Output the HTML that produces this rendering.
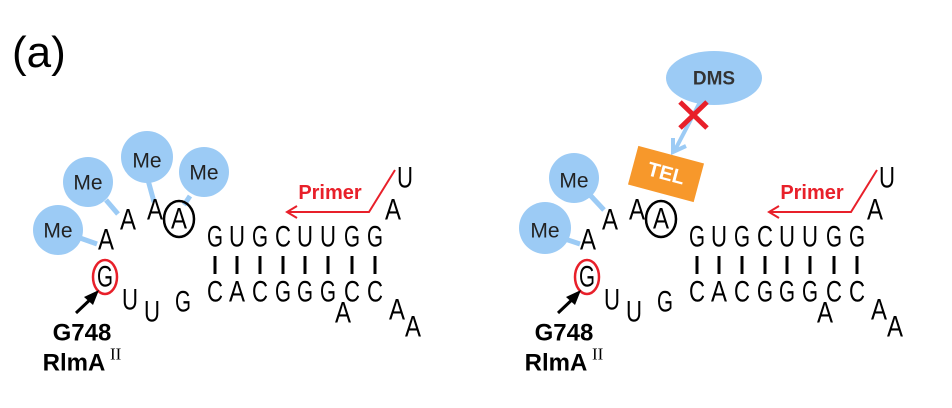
<!DOCTYPE html>
<html><head><style>
html,body{margin:0;padding:0;background:#fff;}
svg{display:block;}
text{font-family:"Liberation Sans",sans-serif;}
.n{font-size:30px;text-anchor:middle;dominant-baseline:central;fill:#000;}
.me{font-size:21px;text-anchor:middle;dominant-baseline:central;fill:#222;}
</style></head><body>
<svg width="952" height="408" viewBox="0 0 952 408">
<text x="12" y="67" style="font-size:44px">(a)</text>
<defs>
<g id="base">
  <ellipse cx="105" cy="277" rx="12" ry="17" fill="none" stroke="#e8202a" stroke-width="2.5"/>
  <line x1="76" y1="313" x2="95" y2="295" stroke="#000" stroke-width="3"/>
  <polygon points="99,290 84,297 93,305" fill="#000"/>
  <text x="82" y="333" style="font-size:24px;font-weight:bold" text-anchor="middle" dominant-baseline="central">G748</text>
  <text x="74" y="363" style="font-size:24px;font-weight:bold" text-anchor="middle" dominant-baseline="central">RlmA</text>
  <text x="110" y="354" style="font-size:17px;font-family:'Liberation Serif',serif" dominant-baseline="central">II</text>
  <text class="n" textLength="16" lengthAdjust="spacingAndGlyphs" x="106" y="240">A</text>
  <text class="n" textLength="16" lengthAdjust="spacingAndGlyphs" x="128" y="220">A</text>
  <text class="n" textLength="16" lengthAdjust="spacingAndGlyphs" x="155" y="210">A</text>
  <ellipse cx="179" cy="219" rx="15" ry="18" fill="none" stroke="#000" stroke-width="2.5"/>
  <text class="n" textLength="16" lengthAdjust="spacingAndGlyphs" x="179" y="219">A</text>
  <text class="n" textLength="16" lengthAdjust="spacingAndGlyphs" x="105" y="277">G</text>
  <text class="n" textLength="16" lengthAdjust="spacingAndGlyphs" x="130" y="300">U</text>
  <text class="n" textLength="16" lengthAdjust="spacingAndGlyphs" x="152" y="312">U</text>
  <text class="n" textLength="16" lengthAdjust="spacingAndGlyphs" x="183" y="302">G</text>
  <g>
  <text class="n" textLength="16" lengthAdjust="spacingAndGlyphs" x="215" y="237">G</text><text class="n" textLength="16" lengthAdjust="spacingAndGlyphs" x="237" y="237">U</text><text class="n" textLength="16" lengthAdjust="spacingAndGlyphs" x="260" y="237">G</text><text class="n" textLength="16" lengthAdjust="spacingAndGlyphs" x="283" y="237">C</text><text class="n" textLength="16" lengthAdjust="spacingAndGlyphs" x="305" y="237">U</text><text class="n" textLength="16" lengthAdjust="spacingAndGlyphs" x="328" y="237">U</text><text class="n" textLength="16" lengthAdjust="spacingAndGlyphs" x="352" y="237">G</text><text class="n" textLength="16" lengthAdjust="spacingAndGlyphs" x="375" y="237">G</text>
  <text class="n" textLength="16" lengthAdjust="spacingAndGlyphs" x="215" y="292">C</text><text class="n" textLength="16" lengthAdjust="spacingAndGlyphs" x="237" y="292">A</text><text class="n" textLength="16" lengthAdjust="spacingAndGlyphs" x="260" y="292">C</text><text class="n" textLength="16" lengthAdjust="spacingAndGlyphs" x="283" y="292">G</text><text class="n" textLength="16" lengthAdjust="spacingAndGlyphs" x="305" y="292">G</text><text class="n" textLength="16" lengthAdjust="spacingAndGlyphs" x="328" y="292">G</text><text class="n" textLength="16" lengthAdjust="spacingAndGlyphs" x="352" y="292">C</text><text class="n" textLength="16" lengthAdjust="spacingAndGlyphs" x="375" y="292">C</text>
  </g>
  <g stroke="#000" stroke-width="3">
   <line x1="215" y1="256" x2="215" y2="274"/><line x1="237" y1="256" x2="237" y2="274"/><line x1="260" y1="256" x2="260" y2="274"/><line x1="283" y1="256" x2="283" y2="274"/><line x1="305" y1="256" x2="305" y2="274"/><line x1="328" y1="256" x2="328" y2="274"/><line x1="352" y1="256" x2="352" y2="274"/><line x1="375" y1="256" x2="375" y2="274"/>
  </g>
  <text class="n" textLength="16" lengthAdjust="spacingAndGlyphs" x="343" y="313">A</text>
  <text class="n" textLength="16" lengthAdjust="spacingAndGlyphs" x="397" y="310">A</text>
  <text class="n" textLength="16" lengthAdjust="spacingAndGlyphs" x="413" y="327">A</text>
  <text class="n" textLength="16" lengthAdjust="spacingAndGlyphs" x="393" y="210">A</text>
  <text class="n" textLength="16" lengthAdjust="spacingAndGlyphs" x="405" y="178">U</text>
  <polyline points="395,170 369,212 287,212" fill="none" stroke="#e8202a" stroke-width="2"/>
  <polyline points="297,206 287,212 297,218" fill="none" stroke="#e8202a" stroke-width="2"/>
  <text x="330" y="193" style="font-size:20px;font-weight:bold;fill:#e8202a" text-anchor="middle" dominant-baseline="central">Primer</text>
</g>
</defs>
<g stroke="#9ccbf5" stroke-width="5">
 <line x1="80" y1="238" x2="97" y2="244"/>
 <line x1="106" y1="200" x2="118" y2="214"/>
 <line x1="148" y1="180" x2="154" y2="202"/>
 <line x1="190" y1="196" x2="184" y2="205"/>
</g>
<g fill="#9ccbf5">
 <circle cx="58" cy="230" r="25"/>
 <circle cx="88" cy="182" r="25"/>
 <circle cx="147" cy="157" r="26"/>
 <circle cx="204" cy="172" r="25"/>
</g>
<text class="me" x="58" y="231">Me</text>
<text class="me" x="88" y="183">Me</text>
<text class="me" x="147" y="161">Me</text>
<text class="me" x="204" y="173">Me</text>
<use href="#base"/>
<g stroke="#9ccbf5" stroke-width="5">
 <line x1="562" y1="238" x2="580" y2="244"/>
 <line x1="590" y1="195" x2="604" y2="210"/>
</g>
<g fill="#9ccbf5">
 <circle cx="545" cy="228" r="26"/>
 <circle cx="574" cy="178" r="25"/>
</g>
<text class="me" x="545" y="231">Me</text>
<text class="me" x="574" y="181">Me</text>
<g transform="translate(482,0)"><use href="#base"/></g>
<ellipse cx="714" cy="78" rx="48" ry="27" fill="#9ccbf5"/>
<text x="714" y="79" style="font-size:19px;font-weight:bold;fill:#333" text-anchor="middle" dominant-baseline="central">DMS</text>
<line x1="700" y1="102" x2="675" y2="150" stroke="#9ccbf5" stroke-width="4"/>
<polyline points="673,138 673,152 686,146" fill="none" stroke="#9ccbf5" stroke-width="4"/>
<g stroke="#e8202a" stroke-width="5">
 <line x1="680" y1="102" x2="707" y2="128"/>
 <line x1="707" y1="102" x2="680" y2="128"/>
</g>
<g transform="translate(666,174) rotate(15)">
 <rect x="-34" y="-20" width="68" height="40" fill="#f7982b"/>
 <text x="0" y="0" style="font-size:20px;font-weight:bold;fill:#fff" text-anchor="middle" dominant-baseline="central">TEL</text>
</g>
</svg>
</body></html>
